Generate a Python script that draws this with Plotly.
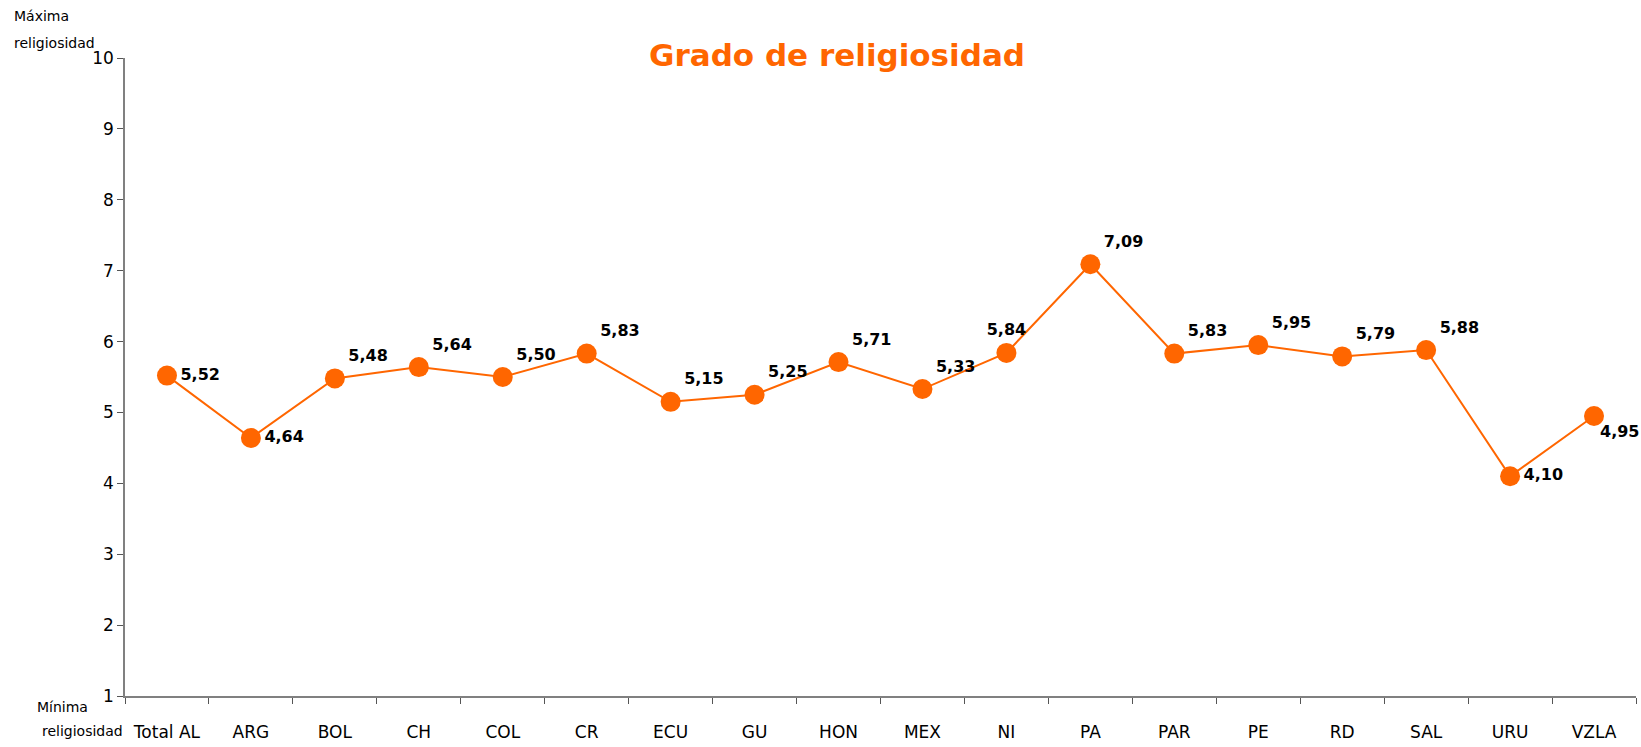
import plotly.graph_objects as go

# datos del gráfico
paises = ["Total AL", "ARG", "BOL", "CH", "COL", "CR", "ECU", "GU", "HON",
          "MEX", "NI", "PA", "PAR", "PE", "RD", "SAL", "URU", "VZLA"]
religiosidad = [5.52, 4.64, 5.48, 5.64, 5.50, 5.83, 5.15, 5.25, 5.71,
                5.33, 5.84, 7.09, 5.83, 5.95, 5.79, 5.88, 4.10, 4.95]
y_ticks = [1, 2, 3, 4, 5, 6, 7, 8, 9, 10]

# posicion de cada etiqueta (la de VZLA va como anotacion, pegada al borde)
posiciones = ["middle right", "middle right", "top right", "top right", "top right",
              "top right", "top right", "top right", "top right", "top right",
              "top center", "top right", "top right", "top right", "top right",
              "top right", "middle right", "bottom right"]
etiquetas = [f"{v:.2f}".replace(".", ",") for v in religiosidad]
etiquetas_traza = etiquetas[:-1] + [""]

NARANJA = "#FF6600"
FUENTE = "Comic Sans MS, DejaVu Sans, sans-serif"

W, H = 1641, 747
L, R, T, B = 125, 5, 58, 42

fig = go.Figure()
fig.add_trace(go.Scatter(
    x=paises,
    y=religiosidad,
    mode="lines+markers+text",
    line=dict(color=NARANJA, width=2),
    marker=dict(size=20, color=NARANJA),
    text=etiquetas_traza,
    textposition=posiciones,
    textfont=dict(family=FUENTE, size=16, color="black", weight="bold"),
    cliponaxis=False,
    showlegend=False
))

fig.add_annotation(x=paises[-1], y=religiosidad[-1], text=etiquetas[-1],
                   xanchor="left", yanchor="top", xshift=4, yshift=-4,
                   showarrow=False,
                   font=dict(family=FUENTE, size=16, color="black", weight="bold"))

fig.update_layout(
    width=W,
    height=H,
    plot_bgcolor="white",
    paper_bgcolor="white",
    font=dict(family=FUENTE, size=16, color="black"),
    margin=dict(l=L, r=R, t=T, b=B),
    title=dict(
        text="<b>Grado de religiosidad</b>",
        font=dict(family=FUENTE, size=31, color=NARANJA),
        x=837 / W, xanchor="center",
        y=1 - 55 / H, yanchor="middle"
    ),
)

fig.update_xaxes(
    type="category",
    range=[-0.5, len(paises) - 0.5],
    tickson="boundaries",
    ticks="outside",
    ticklen=6,
    tickcolor="#555555",
    showline=True,
    linecolor="#808080",
    linewidth=1.5,
    showgrid=False,
    ticklabelstandoff=20,
    tickfont=dict(family=FUENTE, size=17)
)
fig.update_yaxes(
    range=[1, 10],
    tickvals=y_ticks,
    ticks="outside",
    ticklen=6,
    tickcolor="#555555",
    showline=True,
    linecolor="#808080",
    linewidth=1.5,
    showgrid=False,
    zeroline=False,
    tickfont=dict(family=FUENTE, size=17)
)

# etiquetas del eje vertical
pw = W - L - R
ph = H - T - B
for txt, xpx, ypx in [("Máxima", 12, 15), ("religiosidad", 12, 43),
                      ("Mínima", 35, 716), ("religiosidad", 40, 740)]:
    fig.add_annotation(text=txt, xref="paper", yref="paper",
                       x=(xpx - L) / pw, y=(H - B - ypx) / ph,
                       xanchor="left", yanchor="middle", showarrow=False,
                       font=dict(family=FUENTE, size=14))

# sin margen ni scroll para que la figura ocupe justo la ventana
js = ("document.body.style.margin='0';"
      "document.body.style.overflow='hidden';"
      "document.documentElement.style.overflow='hidden';")
fig.write_html("out.html", config={"displayModeBar": False}, post_script=js)
